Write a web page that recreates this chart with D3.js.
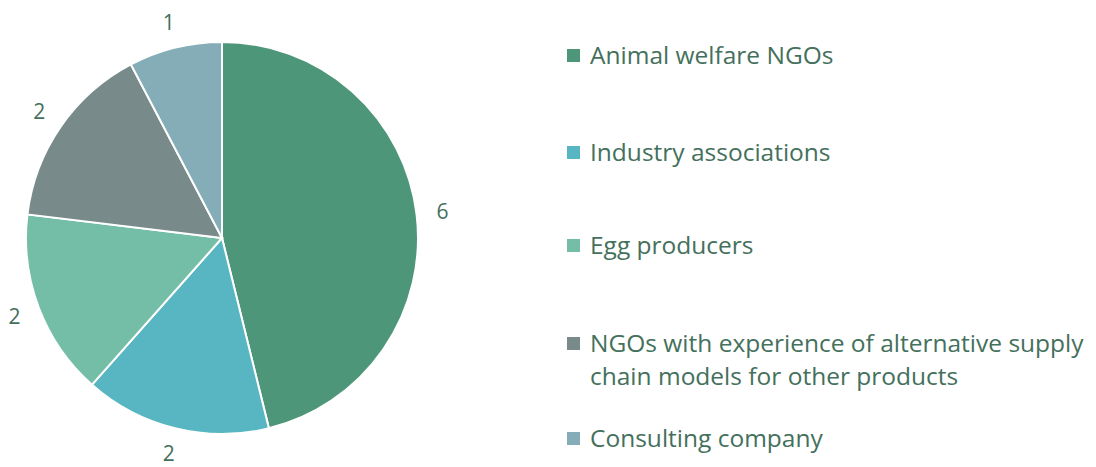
<!DOCTYPE html>
<html>
<head>
<meta charset="utf-8">
<script src="https://cdn.jsdelivr.net/npm/d3@7"></script>
<style>
  body { margin: 0; background: #fff; }
  svg text { font-family: "Open Sans", Lato, sans-serif; fill: #44705c; }
</style>
</head>
<body>
<svg id="chart" width="1096" height="467"></svg>
<script>
// chart data
var categories = ["Animal welfare NGOs", "Industry associations", "Egg producers",
  "NGOs with experience of alternative supply chain models for other products", "Consulting company"];
var values = [6, 2, 2, 2, 1];
var colors = ["#4e9679", "#57b6c1", "#74bda6", "#798a8a", "#84adb8"];
// legend text split into lines like the original
var legendLines = [["Animal welfare NGOs"], ["Industry associations"], ["Egg producers"],
  ["NGOs with experience of alternative supply", "chain models for other products"], ["Consulting company"]];
var legendRowY = [55, 152, 245, 343, 438];

var svg = d3.select("#chart");
var cx = 222, cy = 238, r = 196;

var pie = d3.pie().sort(null).value(function(d) { return d; });
var arc = d3.arc().innerRadius(0).outerRadius(r);
var labelArc = d3.arc().innerRadius(r + 26).outerRadius(r + 26);

var g = svg.append("g").attr("transform", "translate(" + cx + "," + cy + ")");

var slices = pie(values);

g.selectAll("path.slice")
    .data(slices)
  .enter().append("path")
    .attr("class", "slice")
    .attr("d", arc)
    .attr("fill", function(d, i) { return colors[i]; })
    .attr("stroke", "#fff")
    .attr("stroke-width", 2);

// value labels outside the pie
g.selectAll("text.val")
    .data(slices)
  .enter().append("text")
    .attr("class", "val")
    .attr("transform", function(d) { return "translate(" + labelArc.centroid(d) + ")"; })
    .attr("text-anchor", "middle")
    .attr("dy", "0.35em")
    .style("font-size", "21px")
    .text(function(d) { return d.data; });

// legend
var leg = svg.append("g").attr("class", "legend");
var rows = leg.selectAll("g.row")
    .data(categories)
  .enter().append("g")
    .attr("class", "row")
    .attr("transform", function(d, i) { return "translate(567," + legendRowY[i] + ")"; });

rows.append("rect")
    .attr("x", 0)
    .attr("y", -6)
    .attr("width", 13)
    .attr("height", 13)
    .attr("fill", function(d, i) { return colors[i]; });

rows.append("text")
    .attr("x", 23)
    .style("font-size", "24.5px")
    .selectAll("tspan")
    .data(function(d, i) { return legendLines[i]; })
  .enter().append("tspan")
    .attr("x", 23)
    .attr("dy", function(d, j) { return j === 0 ? "0.35em" : "33px"; })
    .text(function(d) { return d; });
</script>
</body>
</html>
